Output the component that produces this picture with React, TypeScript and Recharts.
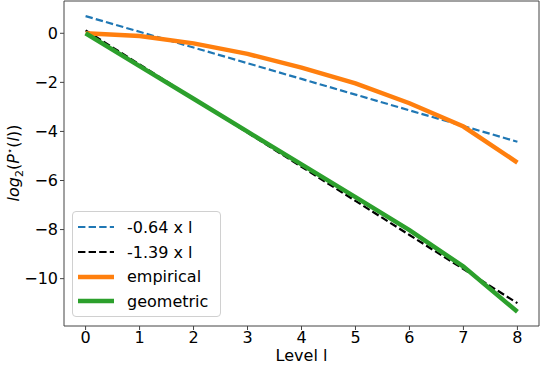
import React from "react";
import { LineChart, Line, XAxis, YAxis, ReferenceLine } from "recharts";

const levels = [0, 1, 2, 3, 4, 5, 6, 7, 8];
const fitEmpirical = [0.7, 0.06, -0.58, -1.22, -1.86, -2.5, -3.14, -3.78, -4.42];
const fitGeometric = [0.12, -1.27, -2.66, -4.05, -5.44, -6.83, -8.22, -9.61, -11.0];
const empirical = [0, -0.11, -0.41, -0.84, -1.4, -2.04, -2.85, -3.8, -5.27];
const geometric = [0, -1.34, -2.67, -4.01, -5.34, -6.68, -8.02, -9.51, -11.35];
const xTicks = [0, 1, 2, 3, 4, 5, 6, 7, 8];
const yTicks = [-10, -8, -6, -4, -2, 0];
const xDomain = [-0.4, 8.4];
const yDomain = [-11.93, 1.316];

const data = levels.map((l, i) => ({
  l,
  fitA: fitEmpirical[i],
  fitB: fitGeometric[i],
  empirical: empirical[i],
  geometric: geometric[i],
}));

const legendItems = [
  { label: "-0.64 x l", color: "#1f77b4", dash: "7.4 3.2", width: 2.2 },
  { label: "-1.39 x l", color: "#000000", dash: "7.4 3.2", width: 2.2 },
  { label: "empirical", color: "#ff7f0e", dash: undefined, width: 4.5 },
  { label: "geometric", color: "#2ca02c", dash: undefined, width: 4.5 },
];

const font = "DejaVu Sans, sans-serif";
const tickStyle = { fill: "#000", fontSize: 16, fontFamily: font };
const axisColor = "#444";

const fmt = (v: number) => (v < 0 ? `\u2212${Math.abs(v)}` : `${v}`);

const ChartLegend = () => (
  <div
    style={{
      position: "absolute",
      left: 72,
      top: 211,
      width: 149,
      height: 106,
      boxSizing: "border-box",
      background: "rgba(255,255,255,0.8)",
      border: "1px solid #d0d0d0",
      borderRadius: 4,
      fontFamily: font,
      fontSize: 16,
      color: "#000",
      paddingTop: 3,
    }}
  >
    {legendItems.map((it) => (
      <div key={it.label} style={{ display: "flex", alignItems: "center", height: 24.7 }}>
        <svg width={54} height={10} style={{ flex: "none" }}>
          <line
            x1={5}
            x2={41}
            y1={5}
            y2={5}
            stroke={it.color}
            strokeWidth={it.width}
            strokeDasharray={it.dash}
          />
        </svg>
        <span>{it.label}</span>
      </div>
    ))}
  </div>
);

const YLabel = () => (
  <text
    transform="translate(19,163) rotate(-90)"
    textAnchor="middle"
    fontFamily={font}
    fontSize={16}
    fill="#000"
  >
    <tspan fontStyle="italic">log</tspan>
    <tspan fontSize={11} dy={4}>2</tspan>
    <tspan dy={-4}>(</tspan>
    <tspan fontStyle="italic">P</tspan>
    <tspan fontSize={10} dy={-6}>⋆</tspan>
    <tspan dy={6}>(</tspan>
    <tspan fontStyle="italic">l</tspan>
    <tspan>))</tspan>
  </text>
);

export default function App() {
  return (
    <div style={{ position: "absolute", left: 0, top: 0, width: 540, height: 365, background: "#fff" }}>
      <LineChart width={540} height={365} data={data} margin={{ top: 1, right: 1, left: 0, bottom: 0 }}>
        <XAxis
          dataKey="l"
          type="number"
          domain={xDomain}
          ticks={xTicks}
          allowDataOverflow
          height={39}
          tick={tickStyle}
          tickSize={4}
          stroke={axisColor}
          tickLine={{ stroke: axisColor }}
          label={{ value: "Level l", position: "insideBottom", offset: 0, dy: -4, style: tickStyle }}
        />
        <YAxis
          type="number"
          domain={yDomain}
          ticks={yTicks}
          allowDataOverflow
          width={64}
          tick={tickStyle}
          tickFormatter={fmt}
          tickSize={4}
          stroke={axisColor}
          tickLine={{ stroke: axisColor }}
          label={<YLabel />}
        />
        <ReferenceLine y={yDomain[1]} stroke={axisColor} strokeWidth={1} ifOverflow="visible" />
        <ReferenceLine x={xDomain[1]} stroke={axisColor} strokeWidth={1} ifOverflow="visible" />
        <Line dataKey="fitA" stroke="#1f77b4" strokeWidth={2.2} strokeDasharray="7.4 3.2" dot={false} isAnimationActive={false} />
        <Line dataKey="fitB" stroke="#000000" strokeWidth={2.2} strokeDasharray="7.4 3.2" dot={false} isAnimationActive={false} />
        <Line dataKey="empirical" stroke="#ff7f0e" strokeWidth={4.5} dot={false} isAnimationActive={false} />
        <Line dataKey="geometric" stroke="#2ca02c" strokeWidth={4.5} dot={false} isAnimationActive={false} />
      </LineChart>
      <ChartLegend />
    </div>
  );
}
